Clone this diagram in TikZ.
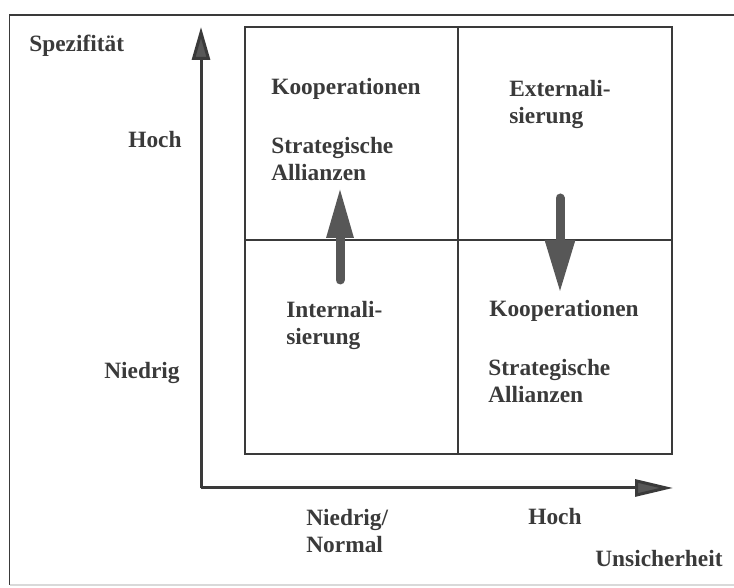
\documentclass[tikz,border=0pt]{standalone}
\usepackage{fontspec}
\setmainfont{Liberation Serif}
\usepackage{tikz}
\usetikzlibrary{arrows.meta, calc, positioning}

\definecolor{inkgray}{HTML}{3A3A3A}
\definecolor{arrowgray}{HTML}{575757}

\begin{document}
\begin{tikzpicture}[>=stealth,
    lbl/.style={anchor=west, inner sep=0pt, align=left, text=inkgray,
        font=\fontsize{13.3}{15.9}\selectfont\bfseries},
    gridline/.style={draw=inkgray, line width=0.04cm},
    axisline/.style={draw=inkgray, line width=0.06cm},
    bigarrow/.style={draw=arrowgray, line width=0.18cm, line cap=round}]
    \useasboundingbox (0,0) rectangle (14.68,11.76);

    % Frame
    \draw[draw=inkgray, line width=0.04cm] (14.68,11.46) -- (0.19,11.46) -- (0.19,0.06);
    \draw[draw=black!15, line width=0.03cm] (0.19,0.06) -- (14.68,0.06);

    % Axes
    \coordinate (O) at (4.02,2.0);
    \coordinate (ytip) at (4.02,11.22);
    \coordinate (xtip) at (13.46,2.0);
    \draw[axisline, -{Triangle[length=0.66cm, width=0.36cm, fill=arrowgray]}] (O) -- (ytip);
    \draw[axisline, -{Triangle[length=0.76cm, width=0.34cm, fill=arrowgray]}] (O) -- (xtip);

    % Matrix
    \draw[gridline] (4.9,2.68) rectangle (13.44,11.22);
    \draw[gridline] (9.16,2.68) -- (9.16,11.22);
    \draw[gridline] (4.9,6.96) -- (13.44,6.96);

    % Shifts
    \coordinate (upfrom) at (6.8,6.16);
    \coordinate (upto) at (6.8,8.02);
    \coordinate (downfrom) at (11.2,7.8);
    \coordinate (downto) at (11.2,5.9);
    \draw[bigarrow, -{Triangle[length=1.02cm, width=0.5cm, fill=arrowgray]}] (upfrom) -- (upto);
    \draw[bigarrow, -{Triangle[length=1.06cm, width=0.56cm, fill=arrowgray]}] (downfrom) -- (downto);

    % Axis labels
    \node[lbl] (spez) at (0.58,10.84) {Spezifität};
    \node[lbl] (yhoch) at (2.56,8.96) {Hoch};
    \node[lbl] (yniedrig) at (2.08,4.3) {Niedrig};
    \node[lbl] (xniedrig) at (6.12,1.14) {Niedrig/\\Normal};
    \node[lbl] (xhoch) at (10.56,1.42) {Hoch};
    \node[lbl] (unsich) at (11.9,0.58) {Unsicherheit};

    % Cells
    \node[lbl] (koopTL) at (5.42,9.98) {Kooperationen};
    \node[lbl] (stratTL) at (5.42,8.58) {Strategische\\Allianzen};
    \node[lbl] (extern) at (10.18,9.67) {Externali-\\sierung};
    \node[lbl] (intern) at (5.72,5.25) {Internali-\\sierung};
    \node[lbl] (koopBR) at (9.78,5.54) {Kooperationen};
    \node[lbl] (stratBR) at (9.76,4.14) {Strategische\\Allianzen};
\end{tikzpicture}
\end{document}
